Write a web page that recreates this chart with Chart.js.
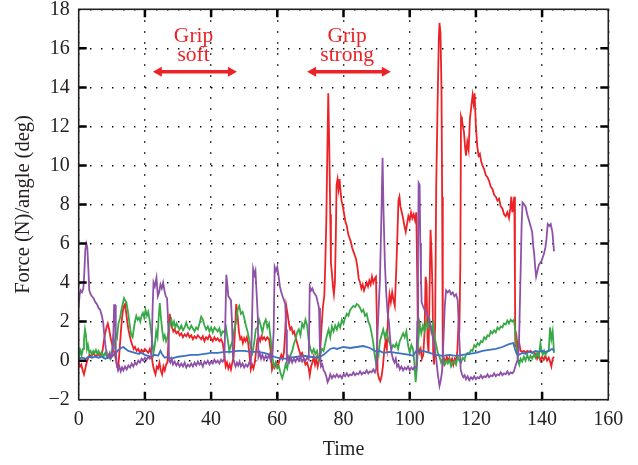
<!DOCTYPE html>
<html>
<head>
<meta charset="utf-8">
<script src="https://cdn.jsdelivr.net/npm/chart.js@4/dist/chart.umd.min.js"></script>
<style>
  body { margin: 0; background: #fff; }
  #myChart { display: block; }
</style>
</head>
<body>
<canvas id="myChart" width="638" height="465"></canvas>
<script>
// time (s) / value pairs
const red = [
  [0,-0.1],[0.4,-0.3],[0.8,-0.2],[1.2,-0.5],[1.6,-0.7],[2,-0.4],[2.4,-0.1],[2.8,0.1],[3.3,0.3],[3.8,0.2],[4.3,0.4],[4.8,0.3],[5.3,0.2],[5.8,0.35],[6.3,0.25],[6.8,0.3],[7.2,0.5],[7.6,1.0],[8,1.4],[8.4,1.7],[8.8,1.9],[9.2,1.6],[9.6,1.2],[10,0.9],[10.4,0.6],[10.8,0.4],[11.2,0.1],[11.6,-0.3],[11.9,-0.4],[12.2,0.2],[12.5,0.9],[12.8,1.6],[13.1,2.2],[13.4,2.6],[13.7,2.8],[14,2.9],[14.3,2.5],[14.6,2.1],[15,1.6],[15.4,1.3],[15.8,1.0],[16.2,0.8],[16.6,0.6],[17,0.7],[17.5,0.5],[18,0.6],[18.5,0.4],[19,0.55],[19.5,0.45],[20,0.6],[20.5,0.5],[21,0.4],[21.5,0.6],[22,0.3],[22.4,-0.2],[22.8,-0.5],[23.2,-0.7],[23.6,-0.3],[24,-0.4],[24.4,-0.1],[24.8,-0.5],[25.2,-0.7],[25.6,-0.3],[26,-0.5],[26.4,-0.2],[26.8,-0.1],[27.2,1.2],[27.5,2.4],[27.8,2.0],[28.2,1.7],[28.6,1.5],[29,1.6],[29.5,1.4],[30,1.5],[30.5,1.3],[31,1.4],[31.5,1.2],[32,1.35],[32.5,1.25],[33,1.4],[33.5,1.2],[34,1.3],[34.5,1.1],[35,1.25],[35.5,1.15],[36,1.3],[36.5,1.2],[37,1.1],[37.5,1.25],[38,1.0],[38.5,1.2],[39,1.1],[39.5,1.3],[40,1.15],[40.5,1.0],[41,1.2],[41.5,1.05],[42,1.15],[42.5,1.0],[43,1.1],[43.5,0.9],[44,0.3],[44.4,-0.3],[44.8,-0.1],[45.2,-0.4],[45.6,-0.2],[46,-0.45],[46.4,-0.1],[46.8,0.2],[47.2,1.5],[47.6,2.9],[48,2.3],[48.4,1.5],[48.8,1.1],[49.2,1.2],[49.6,0.9],[50,1.15],[50.4,1.0],[50.8,1.2],[51.2,0.9],[51.6,0.3],[52,-0.45],[52.4,-0.2],[52.8,-0.4],[53.2,-0.1],[53.6,0.5],[54,1.1],[54.4,1.2],[54.8,1.0],[55.2,1.25],[55.6,1.1],[56,1.2],[56.5,1.05],[57,1.2],[57.5,1.1],[58,0.5],[58.4,-0.45],[58.8,-0.2],[59.2,-0.35],[59.6,-0.1],[60,-0.3],[60.4,-0.15],[60.8,0.1],[61.2,0.3],[61.6,0.1],[62,0.4],[62.4,1.5],[62.7,2.8],[63.1,2.4],[63.5,1.9],[63.9,1.6],[64.3,1.7],[64.7,1.4],[65.1,1.5],[65.5,1.2],[66,0.9],[66.5,0.6],[67,0.3],[67.5,0.4],[68,0.1],[68.5,-0.2],[69,-0.1],[69.5,-0.4],[69.8,-0.75],[70.2,-0.3],[70.6,-0.1],[71,0.2],[71.4,-0.2],[71.8,0.1],[72.2,-0.3],[72.6,0.0],[73,0.6],[73.4,1.8],[73.8,2.8],[74.2,3.3],[74.5,5.0],[74.8,7.1],[75.1,10.5],[75.4,13.7],[75.7,11.0],[76,7.5],[76.2,5.0],[76.5,4.5],[76.8,3.8],[77.1,3.4],[77.4,4.0],[77.7,6.5],[77.9,9.0],[78.2,9.3],[78.5,8.8],[78.8,9.3],[79.1,8.7],[79.4,8.2],[79.8,7.9],[80.2,7.5],[80.6,7.1],[81,6.9],[81.4,6.5],[81.8,6.3],[82.2,6.1],[82.6,5.8],[83,5.6],[83.4,5.4],[83.8,5.2],[84.2,4.8],[84.6,4.2],[85,4.0],[85.4,3.7],[85.8,3.9],[86.2,3.6],[86.6,3.8],[87,4.0],[87.4,3.8],[87.8,4.1],[88.2,3.9],[88.6,4.3],[89,4.0],[89.4,4.2],[89.8,4.3],[90.1,2.0],[90.3,-0.6],[90.7,-0.9],[91.1,-1.05],[91.5,-0.8],[91.9,-0.3],[92.3,0.5],[92.7,1.0],[93.1,0.6],[93.5,2.5],[93.9,3.4],[94.3,3.0],[94.7,3.5],[95.1,3.1],[95.5,2.8],[95.9,4.5],[96.3,6.5],[96.6,8.2],[96.9,8.4],[97.2,7.9],[97.6,7.6],[98,7.3],[98.4,6.9],[98.8,6.6],[99.2,7.0],[99.6,7.4],[100,7.2],[100.4,7.6],[100.8,7.3],[101.2,7.5],[101.6,7.2],[102,7.6],[102.3,4.0],[102.5,0.8],[102.9,0.4],[103.3,0.6],[103.7,0.1],[104.1,0.3],[104.5,1.5],[104.8,4.3],[105.1,3.9],[105.4,1.0],[105.7,0.4],[106,3.5],[106.3,6.7],[106.6,5.5],[106.9,3.5],[107.1,0.4],[107.4,-0.2],[107.7,2.0],[108,8.8],[108.4,12.9],[108.8,16.5],[109,17.3],[109.3,16.8],[109.6,14.0],[109.8,8.4],[110,-0.2],[110.4,0.1],[110.8,-0.1],[111.2,0.2],[111.6,0.0],[112,0.15],[112.4,-0.1],[112.8,0.1],[113.2,-0.2],[113.6,0.1],[114,0.0],[114.4,0.5],[114.7,1.7],[115,1.4],[115.3,5.0],[115.5,12.5],[115.8,12.3],[116.1,12.0],[116.4,11.7],[116.7,11.0],[117,10.5],[117.4,11.2],[117.8,10.8],[118.2,12.4],[118.6,13.0],[119,13.6],[119.3,13.2],[119.6,13.7],[120,12.0],[120.4,11.0],[120.8,10.5],[121.2,10.6],[121.6,10.2],[122,10.0],[122.5,9.8],[123,9.5],[123.5,9.4],[124,9.2],[124.5,8.9],[125,8.8],[125.5,8.5],[126,8.4],[126.5,8.2],[127,8.3],[127.5,7.9],[128,7.8],[128.5,7.5],[129,7.4],[129.5,7.6],[130,7.3],[130.4,7.8],[130.7,8.4],[131,7.6],[131.3,8.0],[131.6,8.4],[131.8,4.0],[131.9,0.7],[132.3,1.2],[132.7,0.6],[133.1,0.9],[133.5,0.5],[134,0.45],[134.5,0.5],[135,0.4],[135.5,0.5],[136,0.45],[136.5,0.5],[137,0.4],[137.5,0.45],[138,0.35],[138.5,0.1],[139,0.3],[139.5,0.0],[140,0.2],[140.5,0.05],[141,0.25],[141.5,0.0],[142,0.15],[142.5,-0.1],[142.8,-0.3],[143.2,0.1],[143.6,0.2]
];
const green = [
  [0,0.7],[0.3,0.3],[0.6,0.5],[0.9,0.3],[1.3,0.6],[1.6,1.1],[1.9,1.6],[2.2,1.3],[2.5,0.6],[2.8,0.8],[3.2,0.4],[3.6,0.5],[4,0.3],[4.4,0.5],[4.8,0.4],[5.2,0.55],[5.6,0.35],[6,0.5],[6.5,0.3],[7,0.45],[7.5,0.2],[8,0.4],[8.5,0.2],[9,0.3],[9.5,0.1],[10,0.4],[10.4,1.1],[10.8,0.8],[11.2,1.4],[11.6,1.2],[12,1.9],[12.5,2.2],[12.9,2.6],[13.3,2.9],[13.7,3.2],[14,3.1],[14.4,3.0],[14.8,2.6],[15.2,2.1],[15.6,1.6],[15.9,1.3],[16.3,1.2],[16.7,1.7],[17,2.0],[17.4,2.3],[17.8,2.1],[18.2,2.2],[18.6,2.0],[19,2.3],[19.4,2.45],[19.8,2.2],[20.2,2.6],[20.6,2.3],[21,2.5],[21.4,2.1],[21.8,1.6],[22.2,1.0],[22.6,0.4],[23,0.8],[23.4,1.5],[23.8,1.2],[24.2,2.3],[24.5,2.95],[24.8,2.3],[25.2,1.6],[25.6,1.1],[26,1.3],[26.4,1.0],[26.8,1.2],[27.2,1.5],[27.6,1.9],[28,2.1],[28.4,1.8],[28.8,2.0],[29.2,1.7],[29.6,1.9],[30,1.75],[30.5,1.6],[31,1.8],[31.5,1.55],[32,1.7],[32.5,1.95],[33,1.7],[33.5,1.6],[34,1.8],[34.5,1.65],[35,1.5],[35.5,1.7],[36,1.6],[36.5,1.9],[37,2.25],[37.5,2.1],[38,1.8],[38.5,1.6],[39,1.75],[39.5,1.5],[40,1.7],[40.5,1.45],[41,1.7],[41.5,1.6],[42,1.5],[42.5,1.65],[43,1.3],[43.5,1.5],[44,1.45],[44.5,1.7],[45,1.1],[45.5,0.5],[46,0.8],[46.5,1.0],[47,1.6],[47.5,1.95],[48,2.6],[48.5,2.8],[49,2.4],[49.5,2.5],[50,2.2],[50.5,1.8],[51,1.5],[51.5,1.1],[52,0.7],[52.5,0.4],[53,0.9],[53.5,1.6],[54,1.7],[54.5,2.1],[55,1.8],[55.5,1.45],[56,1.9],[56.5,2.1],[57,1.7],[57.5,1.9],[58,1.1],[58.5,0.2],[59,-0.3],[59.5,-0.1],[60,-0.4],[60.5,-0.3],[61,-0.65],[61.5,-0.9],[62,-0.6],[62.5,-0.2],[63,-0.4],[63.5,0.1],[64,0.3],[64.5,0.5],[65,0.85],[65.5,1.1],[66,1.45],[66.5,1.6],[67,1.3],[67.5,1.9],[68,1.7],[68.5,2.1],[69,1.8],[69.5,1.0],[70,0.6],[70.5,0.4],[71,0.6],[71.5,0.35],[72,0.5],[72.5,0.05],[73,0.3],[73.5,0.6],[74,0.5],[74.5,0.9],[75,1.3],[75.5,1.6],[76,1.2],[76.5,1.75],[77,1.5],[77.5,1.8],[78,1.6],[78.5,1.9],[79,1.7],[79.5,2.1],[80,1.9],[80.5,2.2],[81,2.4],[81.5,2.3],[82,2.6],[82.5,2.7],[83,2.8],[83.5,2.75],[84,2.9],[84.5,2.85],[85,2.7],[85.5,2.5],[86,2.6],[86.5,2.3],[87,2.4],[87.5,2.0],[88,1.8],[88.5,1.4],[89,0.9],[89.4,0.3],[89.8,-0.1],[90.2,0.6],[90.6,0.3],[91,1.0],[91.5,1.3],[92,1.6],[92.5,1.2],[93,1.5],[93.5,1.1],[94,0.9],[94.5,0.6],[95,0.8],[95.5,0.7],[96,0.9],[96.5,0.6],[97,1.0],[97.5,1.2],[98,1.4],[98.5,1.2],[99,1.5],[99.5,0.8],[100,0.4],[100.5,0.8],[101,0.6],[101.4,-0.1],[101.8,-1.1],[102.2,-0.3],[102.6,1.0],[103,1.9],[103.5,1.4],[104,1.8],[104.5,1.5],[105,2.0],[105.5,1.7],[106,2.1],[106.5,1.5],[107,1.9],[107.5,1.2],[108,0.8],[108.5,0.4],[109,0.2],[109.5,-0.1],[110,0.1],[110.5,-0.2],[111,0.0],[111.5,-0.15],[112,0.05],[112.5,-0.3],[113,-0.1],[113.5,0.0],[114,-0.2],[114.5,0.2],[115,0.0],[115.5,-0.1],[116,0.15],[116.5,0.05],[117,0.3],[117.5,0.4],[118,0.35],[118.5,0.55],[119,0.5],[119.5,0.8],[120,0.7],[120.5,0.9],[121,0.8],[121.5,1.0],[122,0.95],[122.5,1.2],[123,1.1],[123.5,1.3],[124,1.25],[124.5,1.5],[125,1.4],[125.5,1.55],[126,1.45],[126.5,1.7],[127,1.6],[127.5,1.75],[128,1.7],[128.5,1.9],[129,1.85],[129.5,2.05],[130,1.9],[130.5,2.1],[131,2.0],[131.5,2.1],[131.9,1.5],[132.3,0.6],[132.7,0.0],[133.1,-0.2],[133.5,0.1],[134,-0.05],[134.5,0.2],[135,0.0],[135.5,0.3],[136,0.05],[136.5,0.25],[137,0.1],[137.5,0.3],[138,0.15],[138.5,0.4],[139,0.2],[139.5,0.9],[139.8,0.5],[140.2,0.3],[140.6,0.5],[141,0.3],[141.5,0.45],[142,0.5],[142.4,1.7],[142.8,1.1],[143.2,1.5],[143.6,0.4]
];
const blue = [
  [0,0.1],[1,0.15],[2,0.1],[3,0.2],[4,0.15],[5,0.2],[6,0.15],[7,0.2],[8,0.1],[9,0.15],[10,0.2],[11,0.35],[12,0.55],[12.8,0.65],[13.5,0.7],[14.2,0.6],[15,0.5],[16,0.45],[17,0.4],[18,0.35],[19,0.4],[20,0.3],[21,0.25],[22,0.2],[23,0.3],[24,0.25],[24.7,0.5],[25.3,0.3],[26,0.15],[27,0.2],[28,0.1],[29,0.15],[30,0.2],[32,0.25],[34,0.3],[36,0.3],[38,0.35],[40,0.4],[42,0.4],[44,0.45],[46,0.45],[48,0.5],[50,0.5],[52,0.45],[54,0.45],[56,0.4],[58,0.3],[59,0.2],[60,0.15],[61,0.1],[62,0.1],[63,0.1],[64,0.15],[66,0.2],[68,0.25],[70,0.2],[72,0.15],[73,0.2],[74,0.3],[75,0.45],[76,0.6],[77,0.65],[78,0.6],[80,0.7],[82,0.65],[84,0.7],[86,0.75],[88,0.65],[89,0.55],[90,0.45],[91,0.5],[92,0.4],[94,0.45],[96,0.4],[98,0.35],[100,0.3],[101,0.25],[102,0.5],[103,0.45],[104,0.5],[106,0.4],[108,0.3],[110,0.25],[112,0.3],[114,0.25],[116,0.3],[118,0.35],[120,0.4],[122,0.5],[124,0.55],[126,0.6],[128,0.7],[130,0.85],[131.3,0.9],[131.8,0.6],[132.3,0.35],[133,0.3],[134,0.4],[135,0.35],[136,0.45],[137,0.4],[138,0.5],[139,0.45],[140,0.5],[141,0.45],[142,0.5],[143,0.6],[143.6,0.5]
];
const purple = [
  [0,2.8],[0.3,3.4],[0.6,3.6],[1,3.5],[1.4,3.7],[1.7,4.5],[2,5.7],[2.3,6.0],[2.6,5.8],[2.9,4.8],[3.2,3.6],[3.6,3.4],[4,3.3],[4.5,3.2],[5,3.0],[5.5,2.9],[6,2.7],[6.5,2.6],[7,2.3],[7.4,1.95],[7.8,1.2],[8.2,0.6],[8.6,0.35],[9,0.2],[9.4,0.4],[9.8,0.15],[10.2,0.3],[10.5,1.5],[10.7,2.85],[11,2.85],[11.2,0.6],[11.5,-0.2],[11.9,-0.5],[12.3,-0.3],[12.7,-0.55],[13.1,-0.35],[13.5,-0.5],[14,-0.3],[14.5,-0.45],[15,-0.25],[15.5,-0.35],[16,-0.15],[16.5,-0.3],[17,-0.1],[17.5,-0.2],[18,0.0],[18.5,-0.1],[19,0.1],[19.5,0.0],[20,0.15],[20.5,0.05],[21,0.2],[21.5,0.1],[22,0.25],[22.3,2.5],[22.6,4.0],[23,3.8],[23.5,4.25],[23.9,3.3],[24.3,3.5],[24.7,3.9],[25.1,3.7],[25.5,4.0],[25.9,3.6],[26.3,3.3],[26.7,3.2],[27,2.1],[27.3,0.05],[27.7,-0.1],[28.1,0.1],[28.5,-0.2],[29,-0.05],[29.5,-0.25],[30,-0.1],[30.5,-0.3],[31,-0.15],[31.5,-0.3],[32,-0.1],[32.5,-0.35],[33,-0.2],[33.5,-0.3],[34,-0.15],[34.5,-0.3],[35,-0.1],[35.5,-0.25],[36,-0.05],[36.5,-0.2],[37,-0.1],[37.5,-0.3],[38,-0.05],[38.5,-0.15],[39,0.0],[39.5,-0.2],[40,-0.05],[40.5,-0.15],[41,0.05],[41.5,-0.1],[42,0.0],[42.5,-0.15],[43,0.05],[43.5,-0.05],[44,0.1],[44.3,2.0],[44.6,4.4],[44.9,3.9],[45.2,3.3],[45.6,3.2],[46,3.1],[46.3,2.0],[46.6,0.2],[47,-0.1],[47.4,-0.3],[47.8,-0.1],[48.2,-0.25],[48.6,-0.05],[49,-0.3],[49.5,-0.15],[50,-0.35],[50.5,-0.2],[51,-0.3],[51.5,-0.1],[52,-0.2],[52.3,1.5],[52.7,4.7],[53.1,4.4],[53.4,4.6],[53.8,3.3],[54.1,2.3],[54.3,0.2],[54.7,0.4],[55.1,0.1],[55.5,0.3],[56,0.05],[56.5,0.25],[57,0.1],[57.5,0.3],[58,0.0],[58.5,0.2],[58.9,1.5],[59.2,4.8],[59.6,4.6],[60,4.8],[60.4,4.3],[60.8,3.8],[61.2,3.5],[61.6,3.3],[62,3.1],[62.4,2.9],[62.7,1.6],[62.9,0.0],[63.3,0.2],[63.7,-0.05],[64.1,0.15],[64.5,-0.1],[65,0.1],[65.5,-0.05],[66,0.15],[66.5,0.0],[67,0.2],[67.5,-0.05],[68,0.1],[68.5,0.0],[69,0.15],[69.5,0.05],[69.8,3.8],[70.2,3.6],[70.6,3.7],[71,3.5],[71.4,3.4],[71.8,3.3],[72.2,3.0],[72.6,2.7],[72.9,0.5],[73.2,-0.3],[73.6,-0.2],[74,-0.5],[74.4,-0.6],[74.8,-0.8],[75.2,-1.1],[75.6,-0.95],[76,-0.7],[76.5,-0.9],[77,-0.75],[77.5,-0.85],[78,-0.7],[78.5,-0.85],[79,-0.75],[79.5,-0.9],[80,-0.7],[80.5,-0.8],[81,-0.65],[81.5,-0.8],[82,-0.7],[82.5,-0.75],[83,-0.6],[83.5,-0.75],[84,-0.65],[84.5,-0.7],[85,-0.55],[85.5,-0.7],[86,-0.6],[86.5,-0.65],[87,-0.5],[87.5,-0.65],[88,-0.55],[88.5,-0.6],[89,-0.45],[89.5,-0.6],[89.9,-0.4],[90.3,1.5],[90.7,3.0],[91,4.1],[91.4,7.0],[91.8,10.4],[92.1,7.6],[92.5,5.0],[92.9,3.5],[93.3,2.5],[93.7,2.0],[94.1,1.1],[94.5,0.4],[95,0.05],[95.4,-0.1],[95.8,0.1],[96.2,-0.3],[96.6,-0.2],[97,-0.45],[97.5,-0.3],[98,-0.5],[98.5,-0.35],[99,-0.45],[99.5,-0.3],[100,-0.5],[100.5,-0.35],[101,-0.45],[101.5,-0.3],[102,-0.4],[102.3,2.0],[102.5,5.3],[102.7,9.1],[103,9.0],[103.2,6.0],[103.4,4.3],[103.6,3.0],[104,2.8],[104.5,2.6],[105,2.5],[105.5,2.25],[106,2.0],[106.5,1.6],[107,1.2],[107.5,0.7],[108,0.1],[108.5,-0.7],[109,-1.3],[109.4,-1.0],[109.8,-0.5],[110.2,1.1],[110.6,2.8],[111,3.6],[111.5,3.5],[112,3.6],[112.5,3.4],[113,3.5],[113.5,3.3],[114,3.4],[114.5,3.1],[115,1.1],[115.4,-0.45],[115.8,-0.7],[116.2,-0.85],[116.6,-0.75],[117,-0.95],[117.5,-0.8],[118,-1.0],[118.5,-0.85],[119,-0.95],[119.5,-0.8],[120,-0.95],[120.5,-0.85],[121,-0.9],[121.5,-0.75],[122,-0.9],[122.5,-0.8],[123,-0.85],[123.5,-0.7],[124,-0.85],[124.5,-0.75],[125,-0.8],[125.5,-0.65],[126,-0.8],[126.5,-0.7],[127,-0.75],[127.5,-0.6],[128,-0.75],[128.5,-0.65],[129,-0.7],[129.5,-0.55],[130,-0.7],[130.5,-0.6],[131,-0.65],[131.5,-0.55],[131.9,-0.3],[132.3,-0.1],[132.6,0.05],[133,0.7],[133.3,3.0],[133.6,5.2],[133.8,6.9],[134.1,8.1],[134.6,8.0],[135,7.9],[135.5,7.5],[136,7.2],[136.5,6.9],[137,6.6],[137.3,5.9],[137.6,5.5],[137.9,4.8],[138.2,4.3],[138.6,4.6],[139,4.9],[139.4,5.0],[139.8,5.1],[140.2,5.3],[140.6,5.5],[141,5.8],[141.3,6.2],[141.7,7.0],[142.2,6.9],[142.6,7.0],[143.1,6.6],[143.6,5.6]
];

const xTicks = [0, 20, 40, 60, 80, 100, 120, 140, 160];
const yTicks = [-2, 0, 2, 4, 6, 8, 10, 12, 14, 16, 18];

// "Grip soft" / "Grip strong" notes: [centre x, start x, end x] in time units
const gripSoft = [34.7, 22.4, 47.8];
const gripStrong = [81.1, 69.0, 94.3];

const FONT = "'Liberation Serif', 'DejaVu Serif', serif";
const INK = '#231f20';
const RED = '#ec2227';

const toXY = (arr) => arr.map(([x, y]) => ({ x, y }));

const frame = {
  id: 'frame',
  afterDatasetsDraw(chart) {
    const { ctx, chartArea: a, scales: { x, y } } = chart;
    ctx.save();
    ctx.strokeStyle = '#000';
    ctx.lineWidth = 2.5;
    const t = 8;
    xTicks.slice(1, -1).forEach(v => {
      const px = x.getPixelForValue(v);
      ctx.beginPath();
      ctx.moveTo(px, a.bottom); ctx.lineTo(px, a.bottom - t);
      ctx.moveTo(px, a.top); ctx.lineTo(px, a.top + t);
      ctx.stroke();
    });
    yTicks.slice(1, -1).forEach(v => {
      const py = y.getPixelForValue(v);
      ctx.beginPath();
      ctx.moveTo(a.left, py); ctx.lineTo(a.left + t, py);
      ctx.moveTo(a.right, py); ctx.lineTo(a.right - t, py);
      ctx.stroke();
    });
    ctx.lineWidth = 1.6;
    ctx.strokeStyle = INK;
    ctx.strokeRect(a.left, a.top, a.right - a.left, a.bottom - a.top);

    // annotations
    ctx.fillStyle = RED;
    ctx.strokeStyle = RED;
    ctx.font = '21.5px ' + FONT;
    ctx.textAlign = 'center';
    ctx.textBaseline = 'middle';
    const note = (n, second) => {
      const cx = x.getPixelForValue(n[0]);
      ctx.fillText('Grip', cx, y.getPixelForValue(16.6));
      ctx.fillText(second, cx, y.getPixelForValue(15.65));
      const x0 = x.getPixelForValue(n[1]);
      const x1 = x.getPixelForValue(n[2]);
      const ay = y.getPixelForValue(14.8);
      ctx.lineWidth = 3.5;
      ctx.beginPath();
      ctx.moveTo(x0 + 6, ay); ctx.lineTo(x1 - 6, ay);
      ctx.stroke();
      ctx.beginPath();
      ctx.moveTo(x0, ay); ctx.lineTo(x0 + 9, ay - 5); ctx.lineTo(x0 + 9, ay + 5); ctx.closePath();
      ctx.moveTo(x1, ay); ctx.lineTo(x1 - 9, ay - 5); ctx.lineTo(x1 - 9, ay + 5); ctx.closePath();
      ctx.fill();
    };
    note(gripSoft, 'soft');
    note(gripStrong, 'strong');
    ctx.restore();
  }
};

const line = (data, color, order) => ({
  data: toXY(data),
  borderColor: color,
  borderWidth: 1.8,
  pointRadius: 0,
  tension: 0,
  fill: false,
  order: order
});

new Chart(document.getElementById('myChart'), {
  type: 'line',
  data: {
    datasets: [
      line(red, RED, 4),
      line(green, '#37a946', 3),
      line(blue, '#3a73c4', 2),
      line(purple, '#8d51a8', 1)
    ]
  },
  options: {
    responsive: false,
    animation: false,
    layout: { padding: { left: 0, right: 29.7, top: 9.3, bottom: 0 } },
    plugins: { legend: { display: false }, tooltip: { enabled: false } },
    scales: {
      x: {
        type: 'linear',
        min: 0,
        max: 160,
        afterBuildTicks: (s) => { s.ticks = xTicks.map(v => ({ value: v })); },
        afterFit: (s) => { s.height = 65.3; s.paddingLeft = 0; s.paddingRight = 0; },
        ticks: { color: INK, padding: 8, font: { family: FONT, size: 20 } },
        grid: { color: '#000', lineWidth: 1.4, drawTicks: false },
        border: { display: false, dash: [1.4, 9.6] },
        title: { display: true, text: 'Time', color: INK, font: { family: FONT, size: 20 }, padding: { top: 4, bottom: 3 } }
      },
      y: {
        min: -2,
        max: 18,
        afterBuildTicks: (s) => { s.ticks = yTicks.map(v => ({ value: v })); },
        afterFit: (s) => { s.width = 78.7; s.paddingTop = 0; s.paddingBottom = 0; },
        ticks: {
          color: INK, padding: 9, font: { family: FONT, size: 20 },
          callback: (v) => String(v).replace('-', '\u2212')
        },
        grid: { color: '#000', lineWidth: 1.4, drawTicks: false },
        border: { display: false, dash: [1.4, 9.6] },
        title: { display: true, text: 'Force (N)/angle (deg)', color: INK, font: { family: FONT, size: 20.5 }, padding: { top: 11, bottom: 4 } }
      }
    }
  },
  plugins: [frame]
});
</script>
</body>
</html>
